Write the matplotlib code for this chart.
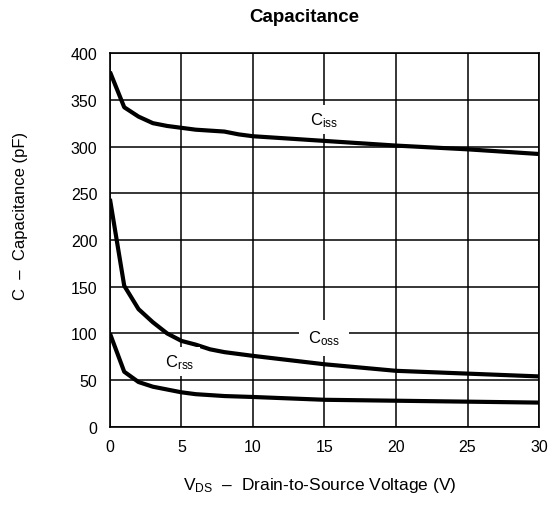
import matplotlib.pyplot as plt

plt.rcParams['font.family'] = 'Liberation Sans'
plt.rcParams['mathtext.fontset'] = 'custom'
plt.rcParams['mathtext.rm'] = 'Liberation Sans'
plt.rcParams['mathtext.it'] = 'Liberation Sans'

# Емкости в зависимости от V_DS
vds = [0, 1, 2, 3, 4, 5, 6, 7, 8, 9, 10, 15, 20, 25, 30]
ciss = [380, 342, 332, 325, 322, 320, 318, 317, 316, 313, 311, 306, 301, 297, 292]
coss = [244, 151, 126, 112, 100, 92, 88, 83, 80, 78, 76, 67, 60, 57, 54]
crss = [100, 59, 48, 43, 40, 37, 35, 34, 33, 32.5, 32, 29, 28, 27, 26]

xticks = [0, 5, 10, 15, 20, 25, 30]
yticks = [0, 50, 100, 150, 200, 250, 300, 350, 400]

fig = plt.figure(figsize=(5.58, 5.10), dpi=100)
ax = fig.add_axes([0.197, 0.161, 0.769, 0.733])

for c in (ciss, coss, crss):
    ax.plot(vds, c, color='black', lw=3, solid_capstyle='butt', zorder=3)

ax.set_xlim(0, 30)
ax.set_ylim(0, 400)
ax.set_xticks(xticks)
ax.set_yticks(yticks)
ax.grid(color='black', lw=1.1)
ax.tick_params(length=0, labelsize=11.5, pad=9)
for s in ax.spines.values():
    s.set_linewidth(1.2)

box = dict(facecolor='white', edgecolor='none', pad=4)
ax.text(15, 329, r'C$_{\rm iss}$', fontsize=12, ha='center', va='center', bbox=box, zorder=4)
ax.text(15, 95, r'C$_{\rm oss}$', fontsize=12, ha='center', va='center',
        bbox=dict(facecolor='white', edgecolor='none', pad=6.5), zorder=4)
ax.text(4.9, 70, r'C$_{\rm rss}$', fontsize=12, ha='center', va='center', bbox=box, zorder=4)

fig.text(21 / 558, 1 - 216 / 510, 'C  –  Capacitance (pF)', fontsize=12, rotation=90,
         ha='center', va='center')
fig.text(320 / 558, 1 - 486 / 510, r'V$_{\rm DS}$  –  Drain-to-Source Voltage (V)',
         fontsize=12.5, ha='center', va='center')
fig.text(304 / 558, 1 - 18 / 510, 'Capacitance', fontsize=13.5, fontweight='bold',
         ha='center', va='center')

fig.savefig('out.png', dpi=100)
